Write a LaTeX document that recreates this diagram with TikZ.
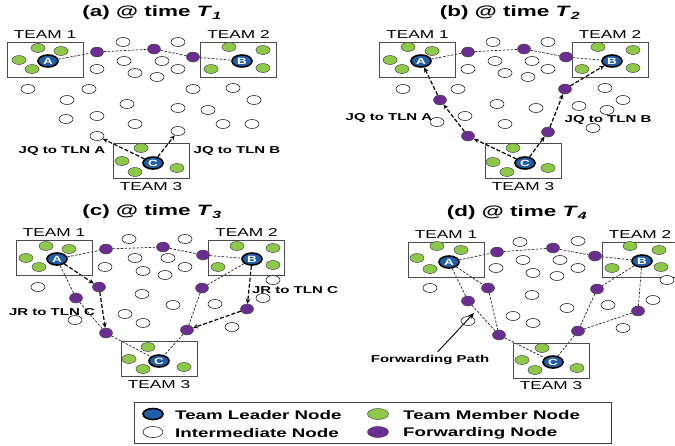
\documentclass[tikz,border=0pt]{standalone}
\usepackage{fontspec}
\setmainfont{Liberation Sans}[FakeStretch=1.5]
\usetikzlibrary{shapes.geometric}
\usetikzlibrary{arrows.meta}
\usetikzlibrary{positioning}
\usetikzlibrary{backgrounds}
\definecolor{leadblue}{RGB}{31,94,168}
\definecolor{membgreen}{RGB}{141,200,72}
\definecolor{fwdpurple}{RGB}{107,45,146}
\newcommand{\attime}[2]{(#1) @ time \textit{T}\textsubscript{\textit{#2}}}

\begin{document}
\begin{tikzpicture}[x=1pt, y=-1pt,
    leader/.style={ellipse, draw=black, line width=1.6pt, fill=leadblue, text=white, inner sep=0pt,
        minimum width=20pt, minimum height=12pt, font=\bfseries\fontsize{9}{9}\selectfont},
    member/.style={ellipse, draw=black!70, line width=0.5pt, fill=membgreen, inner sep=0pt, minimum width=14pt, minimum height=9pt},
    inter/.style={ellipse, draw=black!85, line width=0.6pt, fill=white, inner sep=0pt, minimum width=14pt, minimum height=9pt},
    fwd/.style={ellipse, draw=black!70, line width=0.5pt, fill=fwdpurple, inner sep=0pt, minimum width=13pt, minimum height=10pt},
    teambox/.style={draw=black!70, line width=0.8pt, minimum width=76pt, minimum height=35pt, inner sep=0pt},
    teamlab/.style={font=\fontsize{11.5}{12}\selectfont, inner sep=1pt},
    ptitle/.style={font=\bfseries\fontsize{15}{16}\selectfont},
    msglab/.style={font=\bfseries\fontsize{10}{11}\selectfont},
    fwdlink/.style={draw=black!85, line width=0.7pt, dash pattern=on 2.5pt off 1.5pt},
    jqarrow/.style={draw=black, line width=1.2pt, dash pattern=on 4pt off 2pt, -{Stealth[length=5pt,width=4.5pt]}},
    legtext/.style={anchor=west, inner sep=0pt, font=\bfseries\fontsize{12.5}{13}\selectfont}]
    \useasboundingbox (0,0) rectangle (675,445);
    \clip (0,0) rectangle (675,445);

    % (a) @ time T1
    \node[ptitle] (atitle) at (152,13) {\attime{a}{1}};
    \node[teambox] (at1) at (45,59.5) {};
    \node[teambox] (at2) at (238.5,59.5) {};
    \node[teambox] (at3) at (151,161) {};
    \node[teamlab, above=2pt of at1] (atl1) {TEAM 1};
    \node[teamlab, above=2pt of at2] (atl2) {TEAM 2};
    \node[teamlab, below=2pt of at3] (atl3) {TEAM 3};
    \foreach \x/\y [count=\i] in {38/48, 61/51, 19/60, 32/69, 229/47, 263/50, 211/69, 263/68,
        141/148, 122/161, 135/172, 177/168}
        \node[member] (am\i) at (\x,\y) {};
    \foreach \x/\y [count=\i] in {123/42, 178/42, 97/69, 124/61, 162/61, 135/73, 157/77, 178/69,
        28/89, 89/89, 193/89, 233/88, 67/100, 127/104, 178/108, 208/110, 254/100, 66/119,
        97/116, 135/124, 223/124, 252/124, 97/136, 178/131}
        \node[inter] (aw\i) at (\x,\y) {};
    \foreach \x/\y [count=\i] in {97/52, 154/49, 193/57}
        \node[fwd] (af\i) at (\x,\y) {};
    \node[leader] (aA) at (48,61) {A};
    \node[leader] (aB) at (242,61) {B};
    \node[leader] (aC) at (153,163) {C};
    \node[msglab] (ajqa) at (62,151) {JQ to TLN A};
    \node[msglab] (ajqb) at (237,151) {JQ to TLN B};
    \begin{scope}[on background layer]
        \draw[fwdlink] (aA) -- (af1) -- (af2) -- (af3) -- (aB);
        \draw[jqarrow] (aC) -- (aw23);
        \draw[jqarrow] (aC) -- (aw24);
    \end{scope}

    % (b) @ time T2
    \node[ptitle] (btitle) at (510,13) {\attime{b}{2}};
    \node[teambox] (bt1) at (417.5,59.5) {};
    \node[teambox] (bt2) at (610,59.5) {};
    \node[teambox] (bt3) at (523,161) {};
    \node[teamlab, above=2pt of bt1] (btl1) {TEAM 1};
    \node[teamlab, above=2pt of bt2] (btl2) {TEAM 2};
    \node[teamlab, below=2pt of bt3] (btl3) {TEAM 3};
    \foreach \x/\y [count=\i] in {408/47, 432/51, 390/60, 402/69, 598/47, 633/50, 582/69, 633/68,
        513/148, 493/162, 507/172, 548/168}
        \node[member] (bm\i) at (\x,\y) {};
    \foreach \x/\y [count=\i] in {493/42, 548/42, 468/69, 495/61, 532/61, 505/73, 528/77, 548/69,
        403/89, 458/89, 605/88, 623/100, 497/104, 536/108, 579/106, 607/110, 465/116, 437/122,
        505/124, 593/128}
        \node[inter] (bw\i) at (\x,\y) {};
    \foreach \x/\y [count=\i] in {468/52, 524/49, 566/57, 440/100, 468/136, 565/89, 548/132}
        \node[fwd] (bf\i) at (\x,\y) {};
    \node[leader] (bA) at (421,61) {A};
    \node[leader] (bB) at (612,61) {B};
    \node[leader] (bC) at (525,163) {C};
    \node[msglab] (bjqa) at (389,118) {JQ to TLN A};
    \node[msglab] (bjqb) at (608,120) {JQ to TLN B};
    \begin{scope}[on background layer]
        \draw[fwdlink] (bA) -- (bf1) -- (bf2) -- (bf3) -- (bB);
        \draw[jqarrow] (bC) -- (bf5);
        \draw[jqarrow] (bf5) -- (bf4);
        \draw[jqarrow] (bf4) -- (bA);
        \draw[jqarrow] (bC) -- (bf7);
        \draw[jqarrow] (bf7) -- (bf6);
        \draw[jqarrow] (bf6) -- (bB);
    \end{scope}

    % (c) @ time T3
    \node[ptitle] (ctitle) at (152,212) {\attime{c}{3}};
    \node[teambox] (ct1) at (54,258) {};
    \node[teambox] (ct2) at (246.5,258) {};
    \node[teambox] (ct3) at (159,359) {};
    \node[teamlab, above=2pt of ct1] (ctl1) {TEAM 1};
    \node[teamlab, above=2pt of ct2] (ctl2) {TEAM 2};
    \node[teamlab, below=2pt of ct3] (ctl3) {TEAM 3};
    \foreach \x/\y [count=\i] in {46/246, 69/249, 26/258, 39/267, 237/246, 273/248, 218/267, 273/265,
        148/347, 129/359, 143/369, 184/367}
        \node[member] (cm\i) at (\x,\y) {};
    \foreach \x/\y [count=\i] in {129/239, 185/239, 105/267, 135/258, 168/258, 143/271, 165/275, 185/267,
        38/287, 142/294, 173/305, 215/304, 273/280, 263/298, 75/320, 125/314, 143/323, 232/327}
        \node[inter] (cw\i) at (\x,\y) {};
    \foreach \x/\y [count=\i] in {106/249, 163/247, 203/255, 99/287, 76/298, 106/333, 202/288, 247/309, 187/330}
        \node[fwd] (cf\i) at (\x,\y) {};
    \node[leader] (cA) at (57,259) {A};
    \node[leader] (cB) at (252,259) {B};
    \node[leader] (cC) at (159,361) {C};
    \node[msglab] (cjra) at (52,312) {JR to TLN C};
    \node[msglab] (cjrb) at (295,290) {JR to TLN C};
    \begin{scope}[on background layer]
        \draw[fwdlink] (cA) -- (cf1) -- (cf2) -- (cf3) -- (cB);
        \draw[fwdlink] (cA) -- (cf5) -- (cf6) -- (cC);
        \draw[fwdlink] (cB) -- (cf7) -- (cf9) -- (cC);
        \draw[jqarrow] (cA) -- (cf4);
        \draw[jqarrow] (cf4) -- (cf6);
        \draw[jqarrow] (cB) -- (cf8);
        \draw[jqarrow] (cf8) -- (cf9);
    \end{scope}

    % (d) @ time T4
    \node[ptitle] (dtitle) at (517,213) {\attime{d}{4}};
    \node[teambox] (dt1) at (446,259.5) {};
    \node[teambox] (dt2) at (640,259.5) {};
    \node[teambox] (dt3) at (551,360.5) {};
    \node[teamlab, above=2pt of dt1] (dtl1) {TEAM 1};
    \node[teamlab, above=2pt of dt2] (dtl2) {TEAM 2};
    \node[teamlab, below=2pt of dt3] (dtl3) {TEAM 3};
    \foreach \x/\y [count=\i] in {437/246, 461/250, 417/258, 430/269, 630/246, 659/250, 612/268, 661/267,
        542/348, 522/360, 535/370, 577/368}
        \node[member] (dm\i) at (\x,\y) {};
    \foreach \x/\y [count=\i] in {520/242, 578/241, 496/268, 523/260, 560/260, 533/273, 557/276, 578/268,
        430/288, 532/295, 567/308, 608/305, 653/300, 667/280, 513/316, 468/321, 533/323, 623/328}
        \node[inter] (dw\i) at (\x,\y) {};
    \foreach \x/\y [count=\i] in {497/252, 553/248, 595/256, 488/288, 468/301, 499/335, 597/289, 638/311, 578/331}
        \node[fwd] (df\i) at (\x,\y) {};
    \node[leader] (dA) at (449,262) {A};
    \node[leader] (dB) at (642,261) {B};
    \node[leader] (dC) at (553,362) {C};
    \node[msglab] (dpath) at (430,360) {Forwarding Path};
    \coordinate (dtip) at (474,313);
    \draw[line width=0.9pt, -{Stealth[length=6pt,width=5pt]}] (dpath) -- (dtip);
    \begin{scope}[on background layer]
        \draw[fwdlink] (dA) -- (df1) -- (df2) -- (df3) -- (dB);
        \draw[fwdlink] (dA) -- (df5) -- (df6) -- (dC);
        \draw[fwdlink] (dA) -- (df4) -- (df6);
        \draw[fwdlink] (dB) -- (df7) -- (df9) -- (dC);
        \draw[fwdlink] (dB) -- (df8) -- (df9);
    \end{scope}

    % Legend
    \node[draw=black!75, line width=0.8pt, minimum width=477pt, minimum height=41pt, inner sep=0pt] (legend) at (372.5,422.5) {};
    \node[leader, minimum width=20pt, minimum height=11pt] (kLead) at (153,414) {};
    \node[inter, minimum width=20pt, minimum height=11pt] (kInter) at (153,432) {};
    \node[member, minimum width=21pt, minimum height=11pt] (kMemb) at (378,414) {};
    \node[fwd, minimum width=21pt, minimum height=11pt] (kFwd) at (378,432) {};
    \node[legtext] (tLead) at (175,415) {Team Leader Node};
    \node[legtext] (tInter) at (175,433) {Intermediate Node};
    \node[legtext] (tMemb) at (403,415) {Team Member Node};
    \node[legtext] (tFwd) at (403,433) {Forwarding Node};
\end{tikzpicture}
\end{document}
